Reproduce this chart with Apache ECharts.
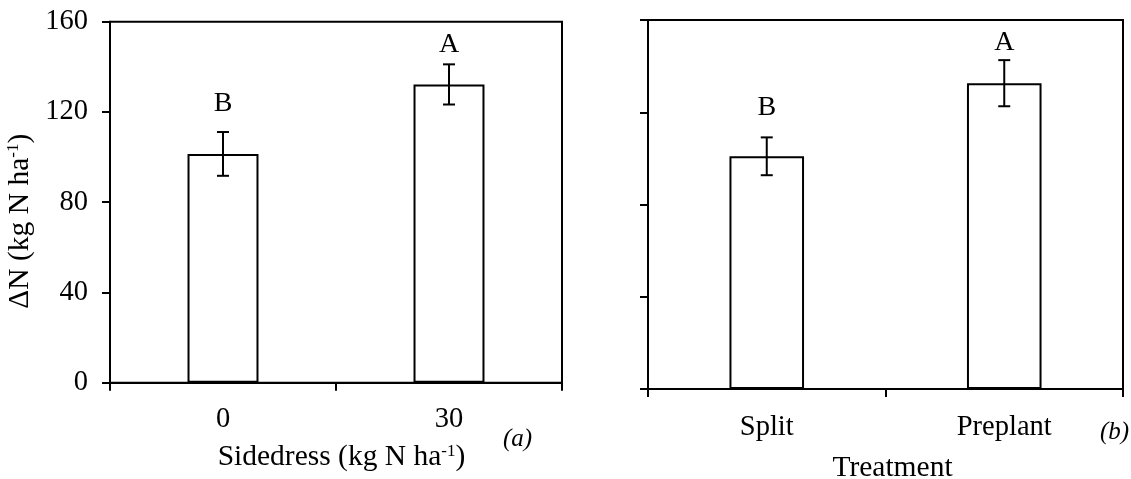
<!DOCTYPE html>
<html><head><meta charset="utf-8">
<script src="https://cdn.jsdelivr.net/npm/echarts@6/dist/echarts.min.js"></script>
<style>html,body{margin:0;padding:0;background:#fff}#c{width:1131px;height:479px}</style>
</head><body><div id="c"></div>
<script>
// Panel (a)
const catsA = ['0', '30'];
const meansA = [101.4, 132.2];
const errA = [9.7, 8.9];
const lettersA = ['B', 'A'];
const letterPosA = [123.5, 150.0];
// Panel (b)
const catsB = ['Split', 'Preplant'];
const meansB = [100.9, 132.6];
const errB = [8.2, 10.0];
const lettersB = ['B', 'A'];
const letterPosB = [121.8, 150.0];
// y axis
const yMin = 0, yMax = 160, yStep = 40;

const FONT = "'Liberation Serif', 'Times New Roman', serif";
const FS_TICK = 28.5;
const FS_LET = 28;
const FS_NAME = 29.5;
const chart = echarts.init(document.getElementById('c'), null, {renderer: 'canvas'});

function errData(means, errs, lpos) {
  return means.map((m, i) => [i, m + errs[i], m - errs[i], lpos[i]]);
}
function renderErr(params, api) {
  const x = api.value(0);
  const pHi = api.coord([x, api.value(1)]);
  const pLo = api.coord([x, api.value(2)]);
  const pL = api.coord([x, api.value(3)]);
  const letter = params.seriesIndex === 1 ? lettersA[params.dataIndex] : lettersB[params.dataIndex];
  const half = 6;
  const st = {stroke: '#000', lineWidth: 2};
  return {type: 'group', children: [
    {type: 'line', shape: {x1: pHi[0], y1: pHi[1], x2: pLo[0], y2: pLo[1]}, style: st},
    {type: 'line', shape: {x1: pHi[0] - half, y1: pHi[1], x2: pHi[0] + half, y2: pHi[1]}, style: st},
    {type: 'line', shape: {x1: pLo[0] - half, y1: pLo[1], x2: pLo[0] + half, y2: pLo[1]}, style: st},
    {type: 'text', x: pL[0], y: pL[1], style: {text: letter, fill: '#000', font: FS_LET + 'px ' + FONT, align: 'center', verticalAlign: 'middle'}}
  ]};
}

const richBase = {
  t: {fontFamily: FONT, fontSize: FS_NAME, color: '#000'},
  s: {fontFamily: FONT, fontSize: 17, color: '#000', verticalAlign: 'top', padding: [0, 0, 12, 0]}
};

function xAxisCfg(grid, cats, name, margin, gap, pad) {
  return {
    type: 'category', gridIndex: grid, data: cats,
    axisLine: {lineStyle: {color: '#000', width: 2}},
    axisTick: {show: true, length: 8, lineStyle: {color: '#000', width: 2}},
    axisLabel: {color: '#000', fontFamily: FONT, fontSize: FS_TICK, margin: margin},
    name: name, nameLocation: 'middle', nameGap: gap,
    nameTextStyle: {color: '#000', fontFamily: FONT, fontSize: FS_NAME, rich: richBase, padding: pad}
  };
}
function yAxisCfg(grid, showLabels, name) {
  return {
    type: 'value', gridIndex: grid, min: yMin, max: yMax, interval: yStep,
    splitLine: {show: false},
    axisLine: {show: true, lineStyle: {color: '#000', width: 2}},
    axisTick: {show: true, length: 8, lineStyle: {color: '#000', width: 2}},
    axisLabel: {show: showLabels, color: '#000', fontFamily: FONT, fontSize: FS_TICK, margin: 22},
    name: name, nameLocation: 'middle', nameGap: 75, nameRotate: 90,
    nameTextStyle: {color: '#000', fontFamily: FONT, fontSize: FS_NAME, rich: richBase, padding: [0, 38, 0, 0]}
  };
}

const option = {
  backgroundColor: '#fff',
  animation: false,
  grid: [
    {left: 110, top: 21.7, width: 452, height: 361, show: true, borderColor: '#000', borderWidth: 2, backgroundColor: 'transparent', outerBoundsMode: 'none', containLabel: false},
    {left: 648, top: 20, width: 475, height: 369, show: true, borderColor: '#000', borderWidth: 2, backgroundColor: 'transparent', outerBoundsMode: 'none', containLabel: false}
  ],
  xAxis: [
    xAxisCfg(0, catsA, '{t|Sidedress (kg N ha}{s|-1}{t|)}', 22, 60, [0, 0, 0, 11]),
    xAxisCfg(1, catsB, '{t|Treatment}', 24, 64, [0, 0, 0, 14])
  ],
  yAxis: [
    yAxisCfg(0, true, '{t|ΔN (kg N ha}{s|-1}{t|)}'),
    yAxisCfg(1, false, '')
  ],
  series: [
    {type: 'bar', xAxisIndex: 0, yAxisIndex: 0, data: meansA, barWidth: '31.4%',
     itemStyle: {color: '#fff', borderColor: '#000', borderWidth: 2}},
    {type: 'custom', xAxisIndex: 0, yAxisIndex: 0, data: errData(meansA, errA, letterPosA), renderItem: renderErr, z: 5},
    {type: 'bar', xAxisIndex: 1, yAxisIndex: 1, data: meansB, barWidth: '31.4%',
     itemStyle: {color: '#fff', borderColor: '#000', borderWidth: 2}},
    {type: 'custom', xAxisIndex: 1, yAxisIndex: 1, data: errData(meansB, errB, letterPosB), renderItem: renderErr, z: 5}
  ],
  graphic: [
    {type: 'text', left: 503, top: 427, style: {text: '(a)', fill: '#000', font: 'italic 25px ' + FONT}},
    {type: 'text', left: 1100, top: 420, style: {text: '(b)', fill: '#000', font: 'italic 25px ' + FONT}}
  ]
};
chart.setOption(option);
</script>
</body></html>
